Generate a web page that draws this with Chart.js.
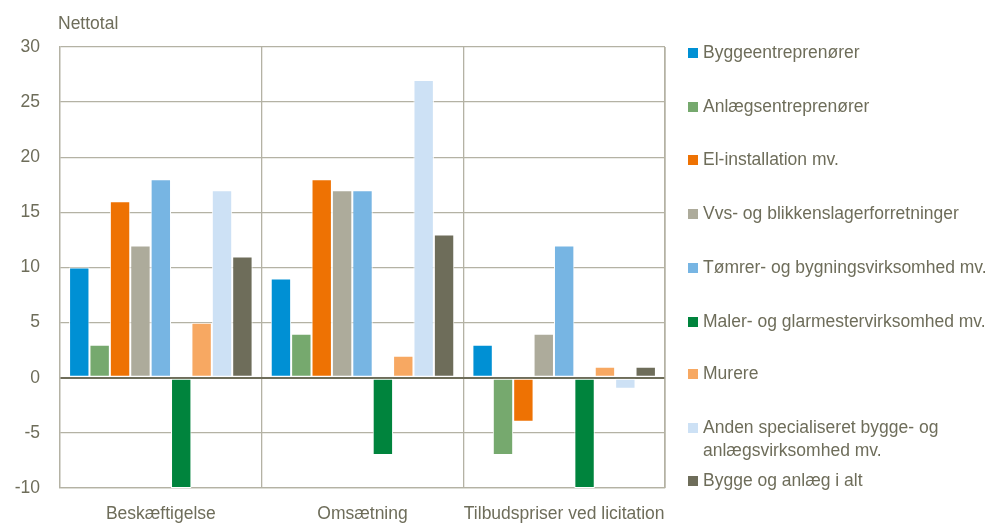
<!DOCTYPE html>
<html>
<head>
<meta charset="utf-8">
<script src="https://cdn.jsdelivr.net/npm/chart.js@4/dist/chart.umd.min.js"></script>
<style>
  body { margin: 0; background: #fff; font-family: "Liberation Sans", Arial, sans-serif; }
  #wrap { position: relative; width: 989px; height: 525px; }
  #ytitle { position: absolute; left: 58px; top: 13px; font-size: 17.5px; color: #6e6d5a; }
  #legend { position: absolute; left: 688px; top: 0; }
  .item { position: absolute; left: 0; white-space: nowrap; font-size: 17.5px; line-height: 23px; color: #6e6d5a; }
  .box { position: absolute; left: 0; top: 7px; width: 10px; height: 10px; }
  .txt { position: absolute; left: 15px; top: 0; }
</style>
</head>
<body>
<div id="wrap">
  <canvas id="grafik"></canvas>
  <div id="ytitle">Nettotal</div>
  <div id="legend"></div>
</div>
<script>
// kategorier og serier
const kategorier = ['Beskæftigelse', 'Omsætning', 'Tilbudspriser ved licitation'];
const serier = [
  'Byggeentreprenører',
  'Anlægsentreprenører',
  'El-installation mv.',
  'Vvs- og blikkenslagerforretninger',
  'Tømrer- og bygningsvirksomhed mv.',
  'Maler- og glarmestervirksomhed mv.',
  'Murere',
  ['Anden specialiseret bygge- og', 'anlægsvirksomhed mv.'],
  'Bygge og anlæg i alt'
];
const farver = ['#0090d4', '#76a96e', '#ee7203', '#adab9b', '#77b5e3', '#00843d', '#f7a862', '#cde1f5', '#6e6d5a'];

const byggeentreprenorer = [10, 9, 3];
const anlaegsentreprenorer = [3, 4, -7];
const elInstallation = [16, 18, -4];
const vvs = [12, 17, 4];
const tomrer = [18, 17, 12];
const maler = [-10, -7, -10];
const murere = [5, 2, 1];
const andenSpec = [17, 27, -1];
const iAlt = [11, 13, 1];

const vaerdier = [byggeentreprenorer, anlaegsentreprenorer, elInstallation, vvs, tomrer, maler, murere, andenSpec, iAlt];

const tekstFarve = '#6e6d5a';
const gitterFarve = '#b4b2a4';
const skrift = { family: 'Liberation Sans', size: 17.5 };

const datasets = serier.map((navn, i) => ({
  label: Array.isArray(navn) ? navn.join(' ') : navn,
  data: vaerdier[i],
  backgroundColor: farver[i],
  borderColor: '#ffffff',
  borderWidth: 1,
  borderSkipped: false
}));

new Chart(document.getElementById('grafik'), {
  type: 'bar',
  data: { labels: kategorier, datasets },
  options: {
    responsive: true,
    maintainAspectRatio: false,
    animation: false,
    layout: { padding: { left: 15, right: 324, top: 47, bottom: 0 } },
    plugins: {
      legend: { display: false },
      tooltip: { enabled: false }
    },
    datasets: { bar: { categoryPercentage: 0.91, barPercentage: 1 } },
    scales: {
      x: {
        afterFit: s => { s.height = 37; },
        grid: { color: gitterFarve, lineWidth: 1.3, drawTicks: false, offset: true },
        border: { color: gitterFarve, width: 1.3 },
        ticks: {
          color: tekstFarve, font: skrift, padding: 16,
          maxRotation: 0, minRotation: 0, autoSkip: false
        }
      },
      y: {
        min: -10,
        max: 30,
        afterFit: s => { s.width = 45; },
        ticks: { stepSize: 5, color: tekstFarve, font: skrift, padding: 20 },
        grid: {
          drawTicks: false,
          color: c => c.tick && c.tick.value === 0 ? '#6e6d5a' : gitterFarve,
          lineWidth: c => c.tick && c.tick.value === 0 ? 2 : 1.3
        },
        border: { color: gitterFarve, width: 1.3 }
      }
    }
  },
  plugins: [{
    id: 'hoejreKant',
    afterDraw(chart) {
      const { ctx, chartArea } = chart;
      ctx.save();
      ctx.strokeStyle = gitterFarve;
      ctx.lineWidth = 1.3;
      ctx.beginPath();
      ctx.moveTo(chartArea.right, chartArea.top);
      ctx.lineTo(chartArea.right, chartArea.bottom);
      ctx.stroke();
      ctx.restore();
    }
  }]
});

// legende til hoejre
const legendTop = [41, 95, 148, 202, 256, 310, 362, 416, 469];
const legend = document.getElementById('legend');
serier.forEach((navn, i) => {
  const el = document.createElement('div');
  el.className = 'item';
  el.style.top = legendTop[i] + 'px';
  const tekst = Array.isArray(navn) ? navn.join('<br>') : navn;
  el.innerHTML = `<span class="box" style="background:${farver[i]}"></span><span class="txt">${tekst}</span>`;
  legend.appendChild(el);
});
</script>
</body>
</html>
